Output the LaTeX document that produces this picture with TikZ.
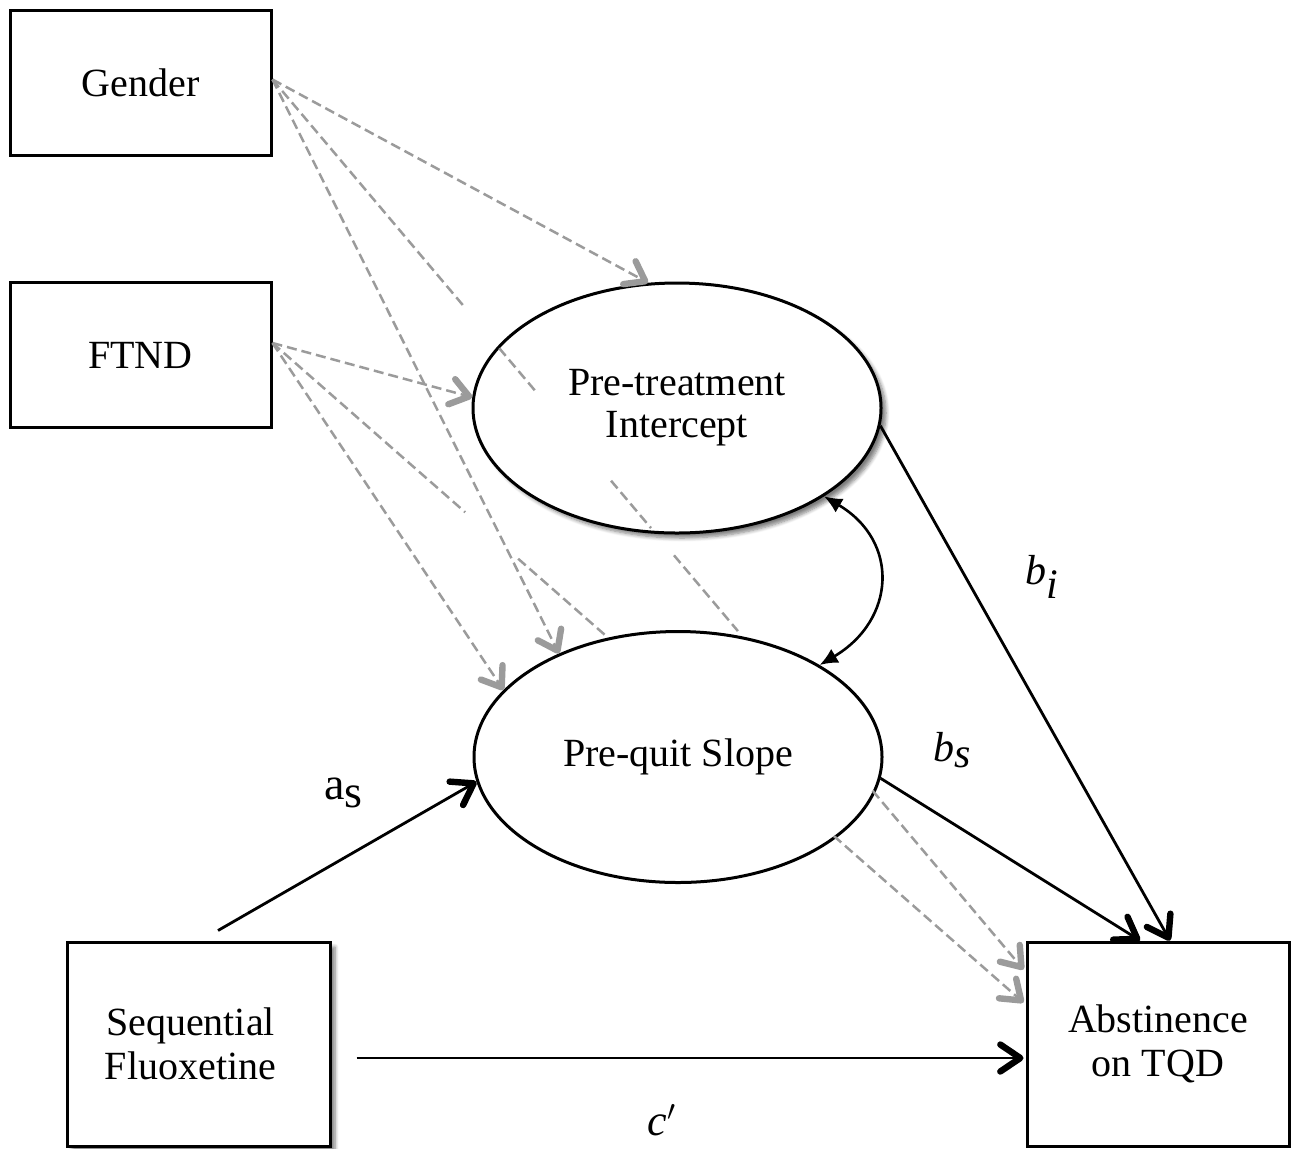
\documentclass[tikz,border=0pt]{standalone}
\usepackage{fontspec}
\setmainfont{Liberation Serif}
\usetikzlibrary{arrows.meta,shapes.geometric,calc,shadows.blur}
\definecolor{dgr}{RGB}{155,155,155}
\begin{document}
\begin{tikzpicture}[x=0.5pt,y=-0.5pt,
  rbox/.style={draw, line width=1.5pt, fill=white, minimum width=130.5pt, minimum height=72.5pt, inner sep=0pt, align=center, font=\fontsize{20}{22}\selectfont},
  lat/.style={draw, ellipse, line width=1.5pt, fill=white, minimum width=204pt, minimum height=125pt, inner sep=0pt, align=center, font=\fontsize{20}{21}\selectfont},
  dline/.style={draw=dgr, line width=1.25pt, dash pattern=on 5pt off 2.5pt},
  darr/.style={dline, -{Straight Barb[length=9pt,width=13pt,line width=3.2pt,round]}},
  sline/.style={draw=black, line width=1.4pt},
  sarr/.style={sline, -{Straight Barb[length=10pt,width=13.5pt,line width=3.2pt,round]}},
  lab/.style={font=\fontsize{21}{24}\selectfont, inner sep=0pt},
  sh/.style={blur shadow={shadow xshift=2.5pt, shadow yshift=-2.5pt, shadow opacity=50, shadow blur steps=6}}
]
\useasboundingbox (0,0) rectangle (1295,1148);
% nodes
\node[rbox] (gender) at (140.5,82.5) {Gender};
\node[rbox] (ftnd) at (140.5,355) {FTND};
\node[rbox, sh, minimum width=131.5pt, minimum height=102pt] (seq) at (198.5,1044) {Sequential\hspace*{8pt}\\Fluoxetine\hspace*{8pt}};
\node[rbox, minimum width=131pt, minimum height=102pt] (abst) at (1158,1044) {Abstinence\\on TQD};
\node[lat, sh] (pti) at (677,408) {Pre-treatment\\Intercept};
\node[lat, minimum height=125.5pt] (pqs) at (678,757) {Pre-quit Slope};
% source / target coordinates
\coordinate (gs) at ($(gender.east)+(0,-3)$);
\coordinate (fs) at ($(ftnd.east)+(0,-12)$);
\coordinate (ag) at ($(abst.north west)+(-2,29)$);
\coordinate (af) at ($(abst.north west)+(-2,62)$);
% Gender paths
\draw[darr] (gs) -- (pti.103);
\draw[dline] (gs) -- ($(gs)!0.2566!(ag)$);
\draw[dline] ($(gs)!0.3019!(ag)$) -- ($(gs)!0.3524!(ag)$);
\draw[dline] ($(gs)!0.4508!(ag)$) -- ($(gs)!0.504!(ag)$);
\draw[dline] ($(gs)!0.5346!(ag)$) -- ($(gs)!0.6197!(ag)$);
\draw[darr] ($(gs)!0.799!(ag)$) -- (ag);
\draw[darr] (gs) -- (pqs.139);
% FTND paths
\draw[darr] (fs) -- (pti.177);
\draw[dline] (fs) -- ($(fs)!0.2566!(af)$);
\draw[dline] ($(fs)!0.3271!(af)$) -- ($(fs)!0.4468!(af)$);
\draw[darr] ($(fs)!0.7473!(af)$) -- (af);
\draw[darr] (fs) -- (pqs.159);
% solid paths
\draw[sarr] (pti.-5) -- ($(abst.north)+(12,0)$);
\draw[sarr] (pqs.-6) -- ($(abst.north)+(-18,0)$);
\draw[sarr] ($(seq.north)+(19.5,-10)$) -- (pqs.187);
\draw[sarr] ($(seq.east)+(25,14)$) -- ($(abst.west)+(-2,14)$);
\draw[line width=1.3pt, {Latex[length=9pt,width=8pt]}-{Latex[length=9pt,width=8pt]}] (pti.-31) .. controls +(76,45) and +(76,-45) .. (pqs.33);
% labels
\node[lab] (lbi) at (1042,577) {$\textit{b}_{\textit{i}}$};
\node[lab] (lbs) at (953,750) {$\textit{b}_{\textit{s}}$};
\node[lab, font=\fontsize{23}{26}\selectfont] (las) at (344,793) {a$_{\textrm{s}}$};
\node[lab, font=\fontsize{22}{26}\selectfont] (lc) at (662,1120) {$\textit{c}'$};
\end{tikzpicture}
\end{document}
